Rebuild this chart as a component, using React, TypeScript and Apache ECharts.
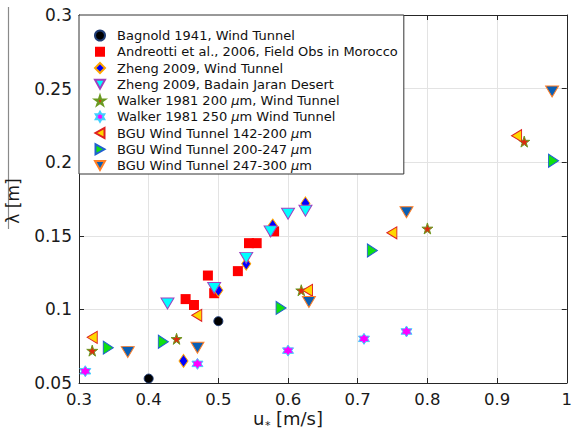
import React, { useEffect, useRef } from "react";
import * as echarts from "echarts";

const bagnold: number[][] = [[0.4, 0.053], [0.5, 0.092]];
const andreotti: number[][] = [[0.453, 0.107], [0.465, 0.103], [0.485, 0.123], [0.494, 0.111], [0.528, 0.126], [0.544, 0.145], [0.555, 0.145], [0.58, 0.153]];
const zhengWT: number[][] = [[0.45, 0.065], [0.5, 0.113], [0.54, 0.131], [0.578, 0.157], [0.625, 0.172]];
const zhengBJ: number[][] = [[0.427, 0.104], [0.494, 0.1145], [0.54, 0.135], [0.575, 0.153], [0.6, 0.165], [0.625, 0.167]];
const walker200: number[][] = [[0.319, 0.072], [0.44, 0.08], [0.619, 0.113], [0.8, 0.155], [0.939, 0.214]];
const walker250: number[][] = [[0.309, 0.058], [0.47, 0.063], [0.6, 0.072], [0.709, 0.08], [0.77, 0.085]];
const bgu142: number[][] = [[0.319, 0.081], [0.469, 0.096], [0.628, 0.113], [0.749, 0.152], [0.928, 0.218]];
const bgu200: number[][] = [[0.342, 0.074], [0.421, 0.078], [0.59, 0.101], [0.721, 0.14], [0.981, 0.201]];
const bgu247: number[][] = [[0.37, 0.071], [0.47, 0.074], [0.63, 0.105], [0.77, 0.166], [0.979, 0.248]];

const seriesNames = [
  "Bagnold 1941, Wind Tunnel",
  "Andreotti et al., 2006, Field Obs in Morocco",
  "Zheng 2009, Wind Tunnel",
  "Zheng 2009, Badain Jaran Desert",
  "Walker 1981 200 μm, Wind Tunnel",
  "Walker 1981 250 μm Wind Tunnel",
  "BGU Wind Tunnel 142-200 μm",
  "BGU Wind Tunnel 200-247 μm",
  "BGU Wind Tunnel 247-300 μm",
];

const FONT = "DejaVu Sans";
const STAR = "path://M50,0 L61,35 L98,35 L68,57 L79,91 L50,70 L21,91 L32,57 L2,35 L39,35 Z";
const HEX = "path://M50,0 L64,25 L93,25 L79,50 L93,75 L64,75 L50,100 L36,75 L7,75 L21,50 L7,25 L36,25 Z";
const TRI_DOWN = "path://M0,0 L10,0 L5,9 Z";
const TRI_LEFT = "path://M9,0 L9,10 L0,5 Z";
const TRI_RIGHT = "path://M0,0 L0,10 L9,5 Z";

export default function App() {
  const ref = useRef<HTMLDivElement>(null);
  useEffect(() => {
    if (!ref.current) return;
    const chart = echarts.init(ref.current, null, { renderer: "svg" });
    const mk = (name: string, data: number[][], symbol: string, size: any, fill: string, edge: string, bw = 1) => ({
      name,
      type: "scatter",
      data,
      symbol,
      symbolSize: size,
      itemStyle: { color: fill, borderColor: edge, borderWidth: bw, opacity: 1 },
      emphasis: { disabled: true },
    });
    const axisLine = { show: true, lineStyle: { color: "#262626", width: 1 } };
    const tickIn = { show: true, inside: true, length: 5, lineStyle: { color: "#262626" } };
    const fmt = (v: number) => String(+v.toFixed(2));
    chart.setOption({
      animation: false,
      backgroundColor: "#fff",
      grid: { left: 79, right: 3, top: 15, bottom: 53 },
      xAxis: [
        {
          type: "value", min: 0.3, max: 1, interval: 0.1, position: "bottom",
          axisLine, axisTick: tickIn,
          axisLabel: { formatter: fmt, fontFamily: FONT, fontSize: 16.5, color: "#1a1a1a", margin: 8 },
          splitLine: { show: true, lineStyle: { color: "#e3e3e3" } },
        },
        {
          type: "value", min: 0.3, max: 1, interval: 0.1, position: "top",
          axisLine, axisTick: tickIn, axisLabel: { show: false }, splitLine: { show: false },
        },
      ],
      yAxis: [
        {
          type: "value", min: 0.05, max: 0.3, interval: 0.05, position: "left",
          axisLine, axisTick: tickIn,
          axisLabel: { formatter: fmt, fontFamily: FONT, fontSize: 17, color: "#1a1a1a", margin: 7 },
          splitLine: { show: true, lineStyle: { color: "#e3e3e3" } },
        },
        {
          type: "value", min: 0.05, max: 0.3, interval: 0.05, position: "right",
          axisLine, axisTick: tickIn, axisLabel: { show: false }, splitLine: { show: false },
        },
      ],
      legend: {
        orient: "vertical",
        left: 79,
        top: 15,
        padding: [14, 6, 2, 15],
        itemWidth: 10,
        itemHeight: 10,
        itemGap: 3.25,
        backgroundColor: "#fff",
        borderColor: "#333",
        borderWidth: 1,
        borderRadius: 0,
        data: seriesNames,
        formatter: (n: string) => n.replace("μ", "{i|μ}"),
        textStyle: {
          fontFamily: FONT, fontSize: 13, color: "#111",
          padding: [0, 0, 0, 7],
          rich: { i: { fontFamily: FONT, fontSize: 13, fontStyle: "italic", color: "#111" } },
        },
      },
      graphic: [
        { type: "line", shape: { x1: 8.5, y1: 7, x2: 8.5, y2: 229 }, style: { stroke: "#8a8a8a", lineWidth: 1.2 } },
        {
          type: "text", x: 13, y: 201, rotation: Math.PI / 2,
          style: { text: "λ [m]", fontFamily: FONT, fontSize: 17, fill: "#1a1a1a", align: "center", verticalAlign: "middle" },
        },
        { type: "text", x: 253, y: 418, style: { text: "u", fontFamily: FONT, fontSize: 18, fill: "#1a1a1a", align: "left", verticalAlign: "middle" } },
        { type: "text", x: 265, y: 425, style: { text: "*", fontFamily: FONT, fontSize: 11, fill: "#1a1a1a", align: "left", verticalAlign: "middle" } },
        { type: "text", x: 276, y: 418, style: { text: "[m/s]", fontFamily: FONT, fontSize: 18, fill: "#1a1a1a", align: "left", verticalAlign: "middle" } },
      ],
      series: [
        mk(seriesNames[0], bagnold, "circle", 9, "#000000", "#1f3b73"),
        mk(seriesNames[1], andreotti, "rect", 10, "#ff0000", "#ff0000", 0),
        mk(seriesNames[2], zhengWT, "diamond", [9, 13], "#0000ff", "#ffa500"),
        mk(seriesNames[3], zhengBJ, TRI_DOWN, [13, 11], "#00ffff", "#a040c0"),
        mk(seriesNames[4], walker200, STAR, 11, "#dd2a10", "#6a9a20"),
        mk(seriesNames[5], walker250, HEX, 11, "#ff00ff", "#40d0ff"),
        mk(seriesNames[6], bgu142, TRI_LEFT, [10, 12], "#ffd700", "#e02020"),
        mk(seriesNames[7], bgu200, TRI_RIGHT, [10, 13], "#10e010", "#2060d0"),
        mk(seriesNames[8], bgu247, TRI_DOWN, [13, 11], "#0a5fb4", "#ff7f27"),
      ],
    });
    return () => chart.dispose();
  }, []);
  return <div ref={ref} style={{ position: "fixed", left: 0, top: 0, width: 575, height: 436 }} />;
}
